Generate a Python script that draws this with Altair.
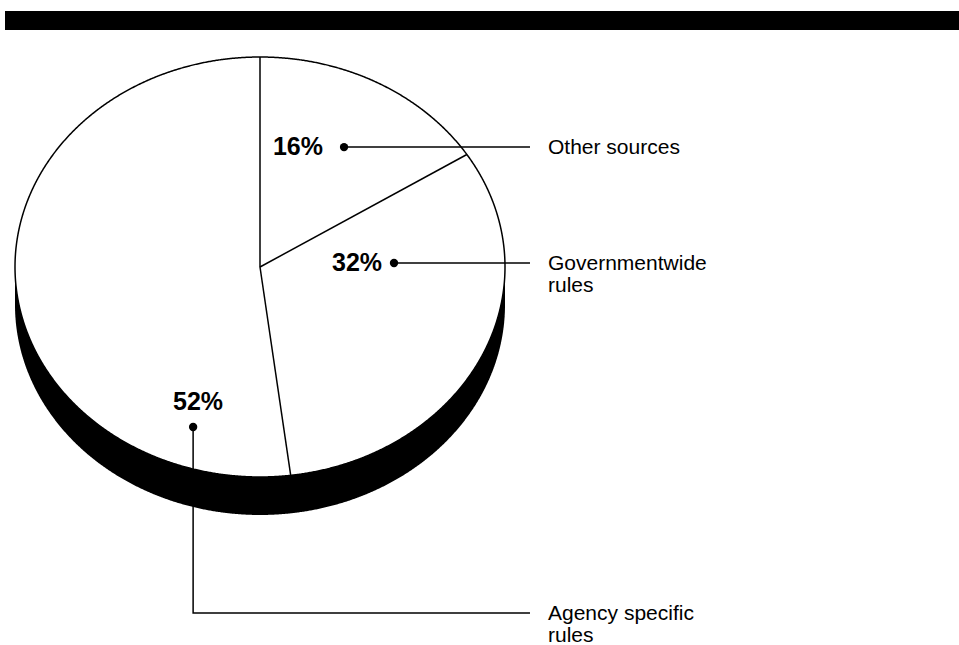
import altair as alt
import numpy as np
import pandas as pd

# ---------------- data ----------------
categories = ["Other sources", "Governmentwide\nrules", "Agency specific\nrules"]
shares = [16, 32, 52]
pct_labels = ["16%", "32%", "52%"]

# ---------------- layout (pie units: centre = 0,0 ; radius = 1) ----------------
W, H = 959, 645
CX, CY, RX, RY = 260, 267, 245, 210          # pixel centre / radii of the elliptic pie
DEPTH = 38 / RY                              # thickness of the 3-D rim
xdom = [(0 - CX) / RX, (W - CX) / RX]
ydom = [(CY - H) / RY, CY / RY]

pct_x = [0.155, 0.396, -0.253]
pct_y = [0.571, 0.019, -0.643]
dot_x = [0.343, 0.547, -0.273]
dot_y = [0.571, 0.019, -0.762]
elbow_y = [0.571, 0.019, -1.648]
lead_end_x = 1.102
label_x = 1.1755

xs = alt.Scale(domain=xdom, nice=False, zero=False)
ys = alt.Scale(domain=ydom, nice=False, zero=False)

# ellipse outline sampled along the angle
t = np.linspace(0, np.pi, 721)
pie_df = pd.DataFrame({
    "x": np.cos(t),
    "top": np.sin(t),
    "bot": -np.sin(t),
    "shadow": -np.sin(t) - DEPTH,
    "zero": 0.0,
})

shadow = alt.Chart(pie_df).mark_area(color="black", interpolate="linear").encode(
    x=alt.X("x:Q", scale=xs, axis=None),
    y=alt.Y("shadow:Q", scale=ys, axis=None),
    y2="zero:Q",
)

disc = alt.Chart(pie_df).mark_area(
    fill="white", stroke="black", strokeWidth=1.5, interpolate="linear"
).encode(
    x=alt.X("x:Q", scale=xs, axis=None),
    y=alt.Y("top:Q", scale=ys, axis=None),
    y2="bot:Q",
)

# slice boundaries (clockwise from 12 o'clock)
start = np.concatenate([[0], np.cumsum(shares)[:-1]]) / 100.0
slice_df = pd.DataFrame({
    "category": categories,
    "x0": 0.0,
    "y0": 0.0,
    "x1": np.sin(2 * np.pi * start),
    "y1": np.cos(2 * np.pi * start),
})
slices = alt.Chart(slice_df).mark_rule(color="black", strokeWidth=1.5).encode(
    x=alt.X("x0:Q", scale=xs, axis=None),
    y=alt.Y("y0:Q", scale=ys, axis=None),
    x2="x1:Q",
    y2="y1:Q",
)

# leader lines
rows = []
for i, c in enumerate(categories):
    rows.append({"cat": c, "o": 0, "x": dot_x[i], "y": dot_y[i]})
    rows.append({"cat": c, "o": 1, "x": dot_x[i], "y": elbow_y[i]})
    rows.append({"cat": c, "o": 2, "x": lead_end_x, "y": elbow_y[i]})
lead_df = pd.DataFrame(rows)
leaders = alt.Chart(lead_df).mark_line(color="black", strokeWidth=1.5).encode(
    x=alt.X("x:Q", scale=xs, axis=None),
    y=alt.Y("y:Q", scale=ys, axis=None),
    detail="cat:N",
    order="o:Q",
)

dot_df = pd.DataFrame({"cat": categories, "x": dot_x, "y": dot_y})
dots = alt.Chart(dot_df).mark_circle(color="black", opacity=1, size=70).encode(
    x=alt.X("x:Q", scale=xs, axis=None),
    y=alt.Y("y:Q", scale=ys, axis=None),
)

pct_df = pd.DataFrame({"label": pct_labels, "x": pct_x, "y": pct_y})
pcts = alt.Chart(pct_df).mark_text(
    font="Liberation Sans", fontSize=25, fontWeight="bold", color="black",
    align="center", baseline="middle",
).encode(
    x=alt.X("x:Q", scale=xs, axis=None),
    y=alt.Y("y:Q", scale=ys, axis=None),
    text="label:N",
)

lab_df = pd.DataFrame({"label": categories, "x": label_x, "y": elbow_y})
labels = alt.Chart(lab_df).mark_text(
    font="Liberation Sans", fontSize=21, color="black", align="left",
    baseline="alphabetic", dy=7, lineBreak="\n", lineHeight=22,
).encode(
    x=alt.X("x:Q", scale=xs, axis=None),
    y=alt.Y("y:Q", scale=ys, axis=None),
    text="label:N",
)

bar = alt.Chart(pd.DataFrame({"a": [0]})).mark_rect(color="black").encode(
    x=alt.value(5), x2=alt.value(W), y=alt.value(11), y2=alt.value(30)
)

chart = alt.layer(shadow, disc, slices, leaders, dots, pcts, labels, bar).properties(
    width=W, height=H, padding=0, autosize="none", background="white"
).configure_view(stroke=None)

chart.save("out.html", embed_options={"renderer": "svg", "actions": False})
